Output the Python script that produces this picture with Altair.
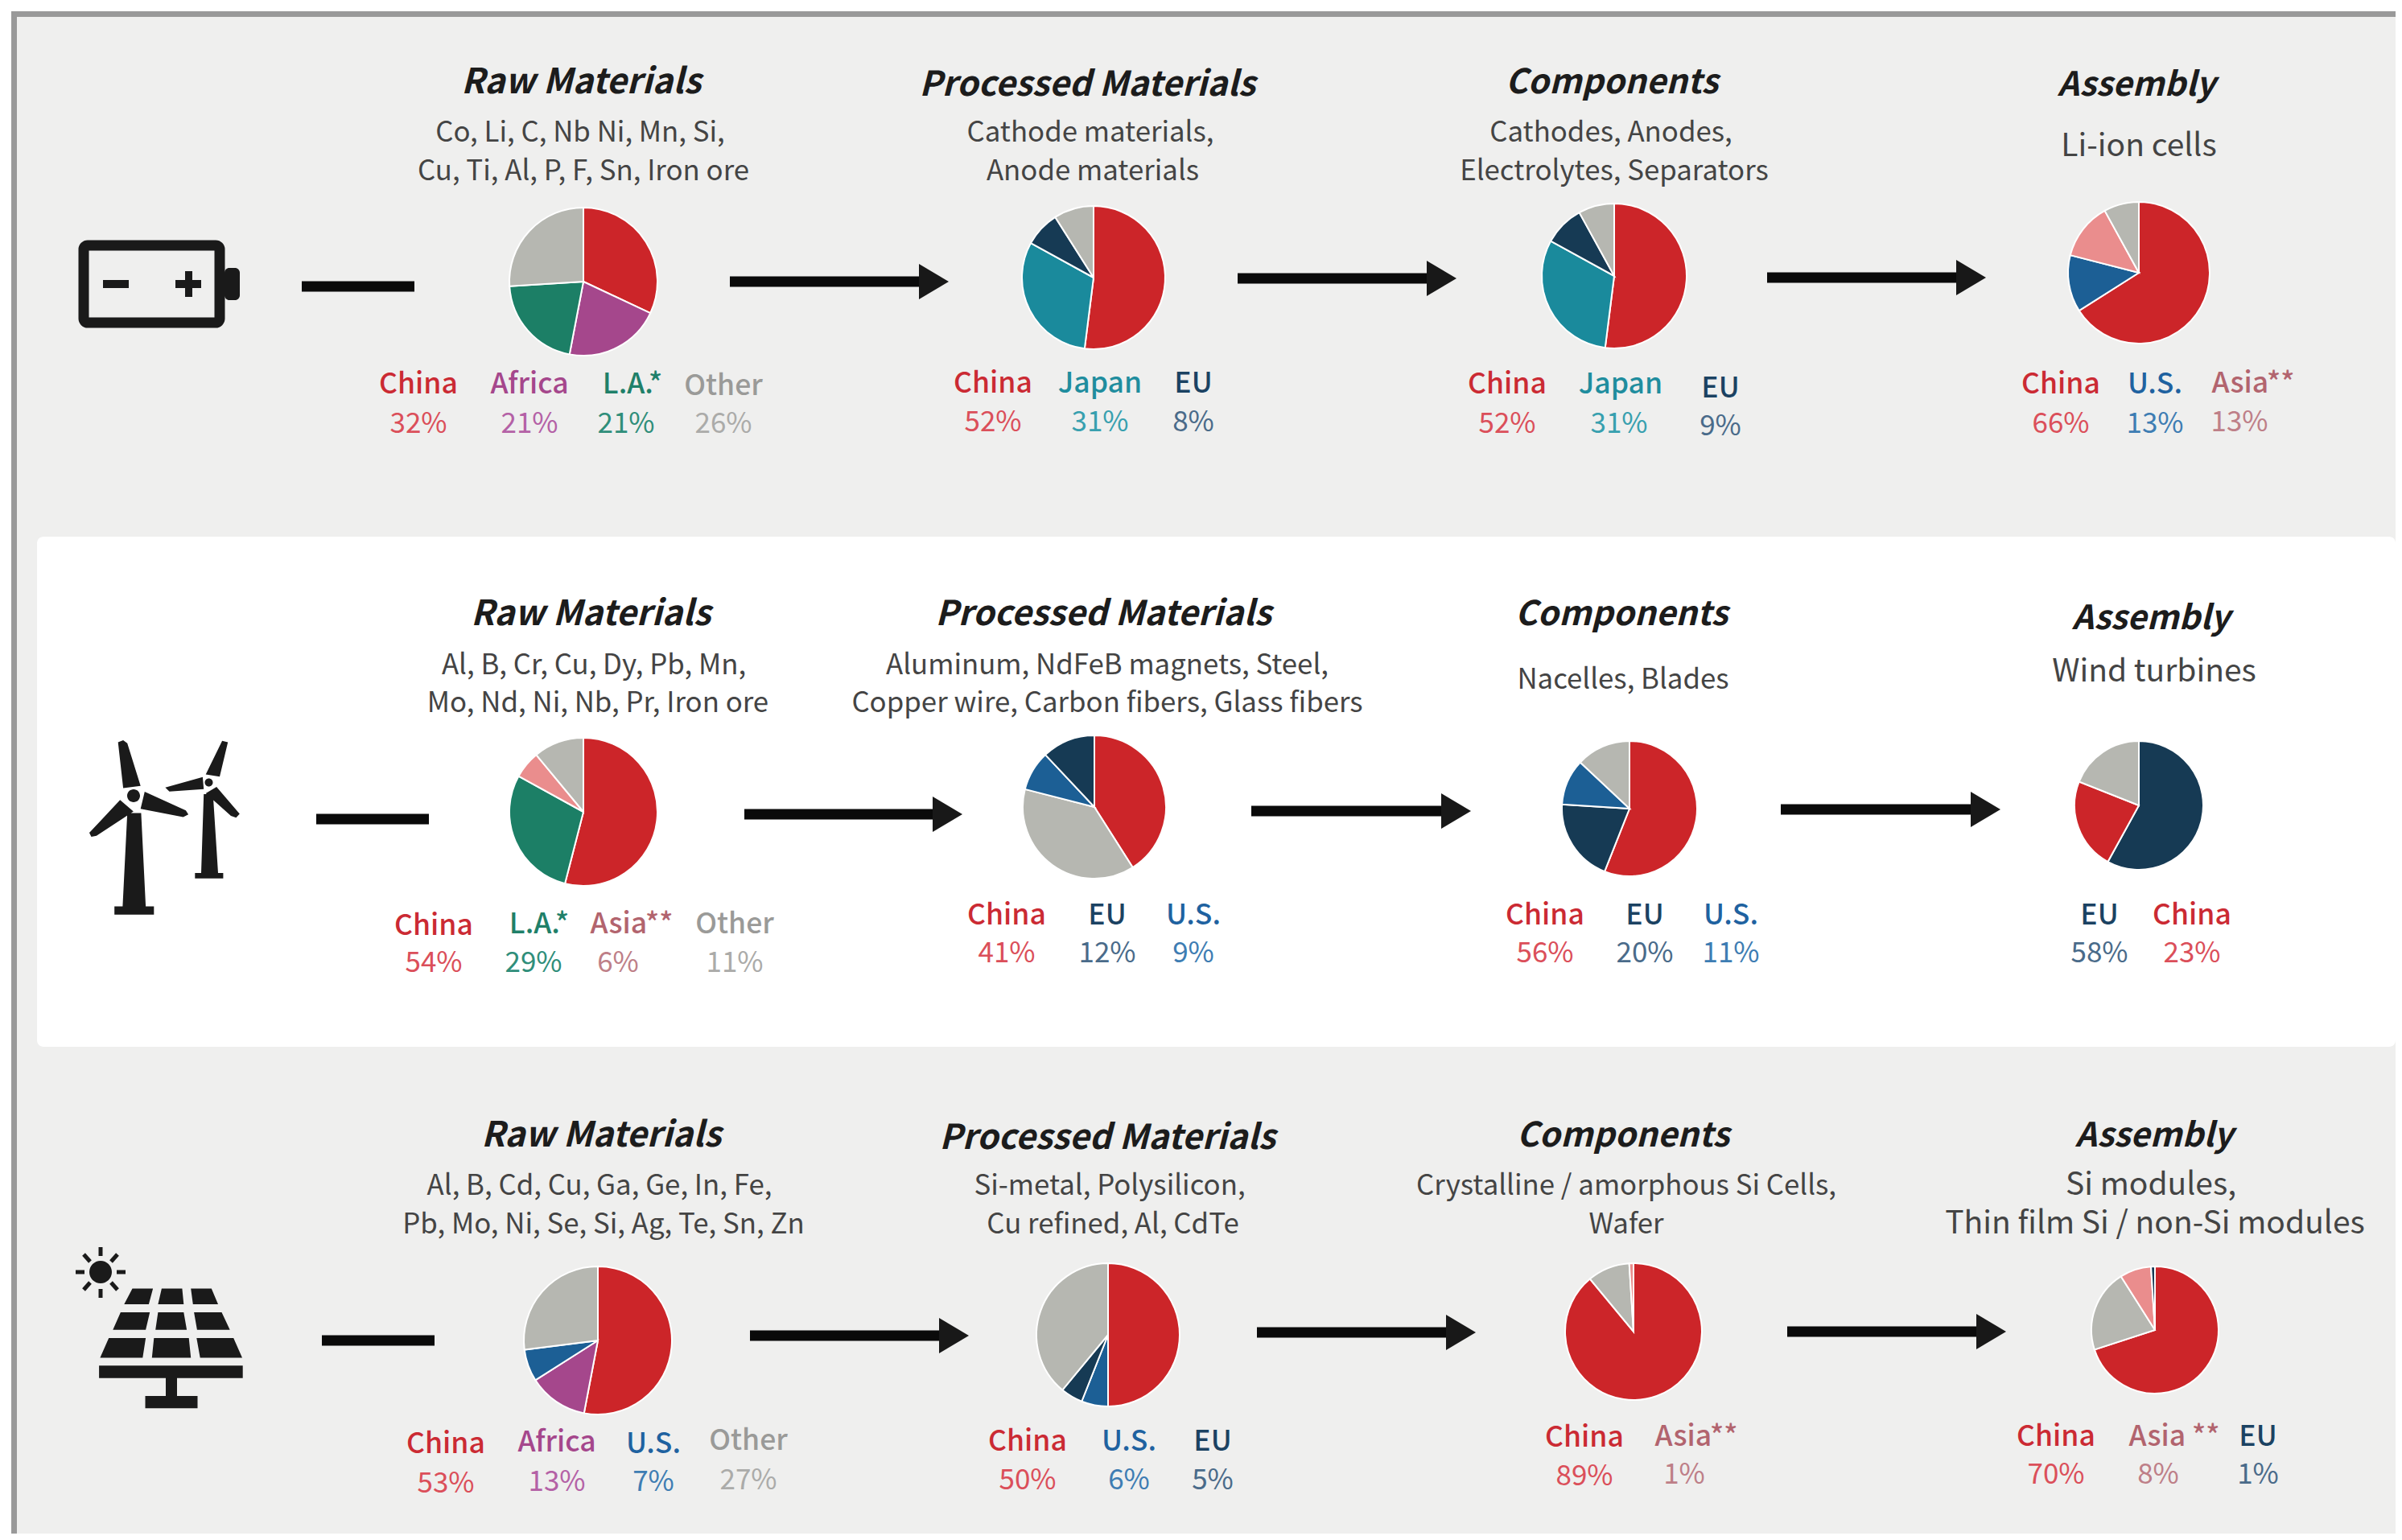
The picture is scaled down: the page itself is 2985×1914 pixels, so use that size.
import altair as alt
import pandas as pd

# ---------- data ----------
RED, PURPLE, GREEN, GRAY, TEAL, NAVY, BLUE, PINK = "#CC2529", "#A5478C", "#1C7F66", "#B6B7B1", "#1A8A9C", "#163A54", "#1C5F95", "#EA8D8D"
REGIONS = ["China", "Africa", "L.A.", "Other", "Japan", "EU", "U.S.", "Asia"]
REGION_COLORS = [RED, PURPLE, GREEN, GRAY, TEAL, NAVY, BLUE, PINK]

PIE_REGIONS = [
    ["China", "Africa", "L.A.", "Other"], ["China", "Japan", "EU", "Other"], ["China", "Japan", "EU", "Other"], ["China", "U.S.", "Asia", "Other"],
    ["China", "L.A.", "Asia", "Other"], ["China", "Other", "U.S.", "EU"], ["China", "EU", "U.S.", "Other"], ["EU", "China", "Other"],
    ["China", "Africa", "U.S.", "Other"], ["China", "U.S.", "EU", "Other"], ["China", "Other", "Asia"], ["China", "Other", "Asia", "EU"],
]
PIE_SHARES = [
    [32, 21, 21, 26], [52, 31, 8, 9], [52, 31, 9, 8], [66, 13, 13, 8],
    [54, 29, 6, 11], [41, 38, 9, 12], [56, 20, 11, 13], [58, 23, 19],
    [53, 13, 7, 27], [50, 6, 5, 39], [89, 10, 1], [70, 21, 8, 1],
]
STAGES = ["Raw Materials", "Processed Materials", "Components", "Assembly"]
DESCRIPTIONS = [
    ["Co, Li, C, Nb Ni, Mn, Si,", "Cu, Ti, Al, P, F, Sn, Iron ore"], ["Cathode materials,", "Anode materials"],
    ["Cathodes, Anodes,", "Electrolytes, Separators"], ["Li-ion cells"],
    ["Al, B, Cr, Cu, Dy, Pb, Mn,", "Mo, Nd, Ni, Nb, Pr, Iron ore"], ["Aluminum, NdFeB magnets, Steel,", "Copper wire, Carbon fibers, Glass fibers"],
    ["Nacelles, Blades"], ["Wind turbines"],
    ["Al, B, Cd, Cu, Ga, Ge, In, Fe,", "Pb, Mo, Ni, Se, Si, Ag, Te, Sn, Zn"], ["Si-metal, Polysilicon,", "Cu refined, Al, CdTe"],
    ["Crystalline / amorphous Si Cells,", "Wafer"], ["Si modules,", "Thin film Si / non-Si modules"],
]
# (region, label text, percent text)
LABELS = [
    [("China", "China", "32%"), ("Africa", "Africa", "21%"), ("L.A.", "L.A.*", "21%"), ("Other", "Other", "26%")],
    [("China", "China", "52%"), ("Japan", "Japan", "31%"), ("EU", "EU", "8%")],
    [("China", "China", "52%"), ("Japan", "Japan", "31%"), ("EU", "EU", "9%")],
    [("China", "China", "66%"), ("U.S.", "U.S.", "13%"), ("Asia", "Asia**", "13%")],
    [("China", "China", "54%"), ("L.A.", "L.A.*", "29%"), ("Asia", "Asia**", "6%"), ("Other", "Other", "11%")],
    [("China", "China", "41%"), ("EU", "EU", "12%"), ("U.S.", "U.S.", "9%")],
    [("China", "China", "56%"), ("EU", "EU", "20%"), ("U.S.", "U.S.", "11%")],
    [("EU", "EU", "58%"), ("China", "China", "23%")],
    [("China", "China", "53%"), ("Africa", "Africa", "13%"), ("U.S.", "U.S.", "7%"), ("Other", "Other", "27%")],
    [("China", "China", "50%"), ("U.S.", "U.S.", "6%"), ("EU", "EU", "5%")],
    [("China", "China", "89%"), ("Asia", "Asia**", "1%")],
    [("China", "China", "70%"), ("Asia", "Asia **", "8%"), ("EU", "EU", "1%")],
]

# ---------- layout (page pixels) ----------
OFF = 8
W, H = 2969, 1898
RIGHT, BOTTOM = OFF + W, OFF + H
FONT = "Noto Sans CJK SC"
TITLE_SIZE = [43.2, 42.7, 42, 41.5]
DESC_SIZE = [34.8, 34.8, 34.8, 39]
PIE_GEOM = [(725, 350, 92), (1359, 345, 89), (2006, 343, 90), (2658, 339, 88),
            (725, 1009, 92), (1360, 1003, 89), (2025, 1005, 84), (2658, 1001, 80),
            (743, 1666, 92), (1377, 1659, 89), (2030, 1655, 85), (2678, 1653, 79)]
TITLE_POS = [(722, 116), (1351, 119), (2003, 116), (2655, 119),
             (734, 777), (1371, 777), (2015, 777), (2673, 782),
             (747, 1425), (1376, 1428), (2017, 1425), (2677, 1425)]
DESC_POS = [[(721, 176), (725, 224)], [(1355, 176), (1358, 224)], [(2002, 176), (2006, 224)], [(2658, 194)],
            [(738, 838), (743, 885)], [(1376, 838), (1376, 885)], [(2017, 856)], [(2677, 847)],
            [(745, 1485), (750, 1533)], [(1379, 1485), (1383, 1533)], [(2021, 1485), (2021, 1533)], [(2673, 1485), (2678, 1533)]]
# label cx, label baseline, percent cx, percent baseline
LABEL_POS = [
    [(520, 489, 520, 538), (658, 489, 658, 538), (786, 489, 778, 538), (899, 491, 899, 538)],
    [(1234, 488, 1234, 536), (1367, 488, 1367, 536), (1483, 488, 1483, 536)],
    [(1873, 489, 1873, 538), (2014, 489, 2012, 538), (2138, 494, 2138, 541)],
    [(2561, 489, 2561, 538), (2678, 489, 2678, 538), (2800, 488, 2783, 536)],
    [(539, 1162, 539, 1208), (670, 1160, 663, 1208), (785, 1160, 768, 1208), (913, 1160, 913, 1208)],
    [(1251, 1149, 1251, 1196), (1376, 1149, 1376, 1196), (1483, 1149, 1483, 1196)],
    [(1920, 1149, 1920, 1196), (2044, 1149, 2044, 1196), (2151, 1149, 2151, 1196)],
    [(2609, 1149, 2609, 1196), (2724, 1149, 2724, 1196)],
    [(554, 1806, 554, 1855), (692, 1804, 692, 1853), (812, 1806, 812, 1853), (930, 1802, 930, 1851)],
    [(1277, 1803, 1277, 1851), (1403, 1803, 1403, 1851), (1507, 1803, 1507, 1851)],
    [(1969, 1798, 1969, 1846), (2108, 1797, 2093, 1844)],
    [(2555, 1797, 2555, 1844), (2702, 1797, 2682, 1844), (2806, 1797, 2806, 1844)],
]
LABEL_COLOR = {"China": "#CB2A33", "Africa": "#A5478C", "L.A.": "#1F8069", "Other": "#9A9A98", "Japan": "#1F8D9E", "EU": "#1B4262", "U.S.": "#1F62A0", "Asia": "#B2646E"}
PCT_COLOR = {"China": "#DB4F5A", "Africa": "#B461A6", "L.A.": "#2F8E7A", "Other": "#ABABA9", "Japan": "#38A0AF", "EU": "#4A6B8A", "U.S.": "#3E7DB3", "Asia": "#BE7F88"}

DASHES = [(375, 515, 356), (393, 533, 1018), (400, 540, 1666)]
ARROWS = [(907, 1142, 1179, 350), (1538, 1773, 1810, 346), (2196, 2431, 2468, 345),
          (925, 1159, 1196, 1012), (1555, 1791, 1828, 1008), (2213, 2449, 2486, 1006),
          (932, 1167, 1204, 1660), (1562, 1797, 1834, 1656), (2221, 2456, 2493, 1655)]

def xy(**extra):
    return dict(x=alt.X("x:Q", scale=None, axis=None), y=alt.Y("y:Q", scale=None, axis=None), **extra)

layers = []

def rect(x, x2, y, y2, color, radius=0):
    kw = dict(color=color, strokeWidth=0)
    if radius:
        kw["cornerRadius"] = radius
    return alt.Chart(alt.Data(values=[{"a": 1}])).mark_rect(**kw).encode(
        x=alt.value(x - OFF), x2=alt.value(x2 - OFF), y=alt.value(y - OFF), y2=alt.value(y2 - OFF))

# frame and card
layers += [rect(14, RIGHT, 14, BOTTOM, "#999999"),
           rect(21, RIGHT, 21, BOTTOM, "#EFEFEE"),
           rect(46, RIGHT, 667, 1301, "#FFFFFF", 8)]

# pies
for regions, shares, (cx, cy, r) in zip(PIE_REGIONS, PIE_SHARES, PIE_GEOM):
    d = pd.DataFrame({"region": regions, "share": shares, "ord": range(len(shares))})
    layers.append(alt.Chart(d).mark_arc(radius=r, stroke="#FFFFFF", strokeWidth=2).encode(
        theta=alt.Theta("share:Q", stack=True, scale=alt.Scale(domain=[0, 100], range=[0, 6.283185307])),
        color=alt.Color("region:N", scale=alt.Scale(domain=REGIONS, range=REGION_COLORS), legend=None),
        order=alt.Order("ord:Q"),
        x=alt.value(cx - OFF), y=alt.value(cy - OFF)))

# text tables
titles, descs, labs, pcts = [], [], [], []
for i in range(12):
    tx, ty = TITLE_POS[i]
    titles.append({"x": tx - OFF, "y": ty - OFF, "t": STAGES[i % 4], "s": TITLE_SIZE[i % 4]})
    for line, (dx, dy) in zip(DESCRIPTIONS[i], DESC_POS[i]):
        descs.append({"x": dx - OFF, "y": dy - OFF, "t": line, "s": DESC_SIZE[i % 4]})
    for (reg, lab, pct), (lx, ly, px, py) in zip(LABELS[i], LABEL_POS[i]):
        labs.append({"x": lx - OFF, "y": ly - OFF, "t": lab, "c": LABEL_COLOR[reg], "s": 35.5})
        pcts.append({"x": px - OFF, "y": py - OFF, "t": pct, "c": PCT_COLOR[reg], "s": 35})

def text_layer(rows, weight=400, style=None, color=None):
    kw = dict(font=FONT, fontWeight=weight, align="center", baseline="alphabetic")
    if style:
        kw["fontStyle"] = style
    enc = xy(text="t:N", size=alt.Size("s:Q", scale=None))
    if color:
        kw["color"] = color
    else:
        enc["color"] = alt.Color("c:N", scale=None)
    return alt.Chart(alt.Data(values=rows)).mark_text(**kw).encode(**enc)

layers += [text_layer(titles, 700, "italic", "#1C1C1C"),
           text_layer(descs, 400, None, "#444444"),
           text_layer(labs, 500),
           text_layer(pcts, 400)]

# connectors
layers.append(alt.Chart(alt.Data(values=[{"x": a - OFF, "x2": b - OFF, "y": y - OFF} for a, b, y in DASHES] +
                                        [{"x": a - OFF, "x2": b + 2 - OFF, "y": y - OFF} for a, b, _, y in ARROWS])).mark_rule(
    color="#0A0A0A", strokeWidth=13).encode(
    x=alt.X("x:Q", scale=None, axis=None), x2="x2:Q", y=alt.Y("y:Q", scale=None, axis=None)))
layers.append(alt.Chart(alt.Data(values=[{"x": b - OFF, "y": y - OFF} for _, b, _, y in ARROWS])).mark_point(
    shape="M0,-22L37,0L0,22Z", size=4, filled=True, color="#181818", opacity=1).encode(**xy()))

# icons: paths written in zoom-crop coordinates and converted to page pixels
def zx(x): return x / 1.568 - OFF
def poly(pts, y0, fy=2.45):
    return "M" + "L".join(f"{zx(x):.1f},{y0 + y / fy - OFF:.1f}" for x, y in pts) + "Z"
def circle(cx, cy, r):
    return f"M{cx - r - OFF:.1f},{cy - OFF:.1f}A{r},{r} 0 1 0 {cx + r - OFF:.1f},{cy - OFF:.1f}A{r},{r} 0 1 0 {cx - r - OFF:.1f},{cy - OFF:.1f}Z"

def icon(path, color="#1A1A1A"):
    return alt.Chart(alt.Data(values=[{"a": 1}])).mark_point(shape=path, size=4, filled=True, color=color, opacity=1).encode(
        x=alt.value(0), y=alt.value(0))

# battery
layers.append(alt.Chart(alt.Data(values=[{"a": 1}])).mark_rect(fillOpacity=0, stroke="#1A1A1A", strokeWidth=13, cornerRadius=5, strokeOpacity=1, fill="#FFFFFF").encode(
    x=alt.value(104 - OFF), x2=alt.value(273 - OFF), y=alt.value(305 - OFF), y2=alt.value(401 - OFF)))
layers.append(rect(279, 298, 333, 373, "#1A1A1A", 6))
layers.append(rect(128, 160, 348, 358, "#1A1A1A"))
layers.append(rect(218, 250, 348, 358, "#1A1A1A"))
layers.append(rect(230, 239, 337, 369, "#1A1A1A"))

# wind turbines
Y2 = 640
turbine = "".join(poly(p, Y2) for p in [
    [(248, 908), (275, 908), (284, 1192), (300, 1192), (300, 1217), (223, 1217), (223, 1192), (239, 1192)],
    [(230, 692), (240, 686), (248, 695), (274, 825), (240, 832)],
    [(282, 843), (362, 900), (367, 912), (357, 920), (274, 895)],
    [(234, 868), (260, 903), (188, 977), (178, 980), (174, 968)],
    [(397, 850), (415, 850), (425, 1090), (435, 1090), (435, 1107), (380, 1107), (380, 1090), (392, 1090)],
    [(433, 688), (444, 692), (428, 797), (401, 790)],
    [(395, 798), (397, 835), (330, 842), (322, 830)],
    [(422, 828), (467, 910), (460, 922), (450, 916), (401, 848)],
])
layers.append(icon(turbine))
layers.append(icon(circle(166, 989, 8) + circle(259.5, 972.6, 5)))

# solar panel
Y3 = 1280
F3 = 2.473
cells = [
    [(258, 795), (298, 795), (290, 843), (242, 843)], [(315, 795), (355, 795), (358, 843), (308, 843)], [(372, 795), (412, 795), (425, 843), (376, 843)],
    [(235, 868), (292, 868), (284, 922), (220, 922)], [(308, 868), (358, 868), (364, 922), (303, 922)], [(378, 868), (432, 868), (448, 922), (384, 922)],
    [(212, 947), (284, 947), (278, 1008), (195, 1008)], [(300, 947), (368, 947), (372, 1008), (296, 1008)], [(383, 947), (455, 947), (472, 1008), (390, 1008)],
    [(193, 1032), (473, 1032), (473, 1070), (193, 1070)], [(323, 1070), (345, 1070), (345, 1125), (323, 1125)], [(283, 1125), (385, 1125), (385, 1163), (283, 1163)],
]
layers.append(icon("".join(poly(c, Y3, F3) for c in cells)))
layers.append(icon(circle(125, 1581, 14)))
ray_rows = []
for (a, b), (c, d) in [((125, 1550), (125, 1561)), ((125, 1602), (125, 1613)), ((94, 1581), (105, 1581)), ((145, 1581), (156, 1581)),
                       ((104, 1559), (112, 1568)), ((138, 1568), (146, 1559)), ((104, 1603), (112, 1594)), ((138, 1594), (146, 1603))]:
    ray_rows.append({"x": a - OFF, "x2": c - OFF, "y": b - OFF, "y2": d - OFF})
layers.append(alt.Chart(alt.Data(values=ray_rows)).mark_rule(color="#1A1A1A", strokeWidth=5).encode(
    x=alt.X("x:Q", scale=None, axis=None), x2="x2:Q", y=alt.Y("y:Q", scale=None, axis=None), y2="y2:Q"))

chart = alt.layer(*layers).properties(width=W, height=H, padding=0, autosize="none", background="#FFFFFF").configure_view(stroke=None).resolve_scale(
    theta="shared", color="shared")
chart.save("out.html", embed_options={"renderer": "svg", "actions": False})
